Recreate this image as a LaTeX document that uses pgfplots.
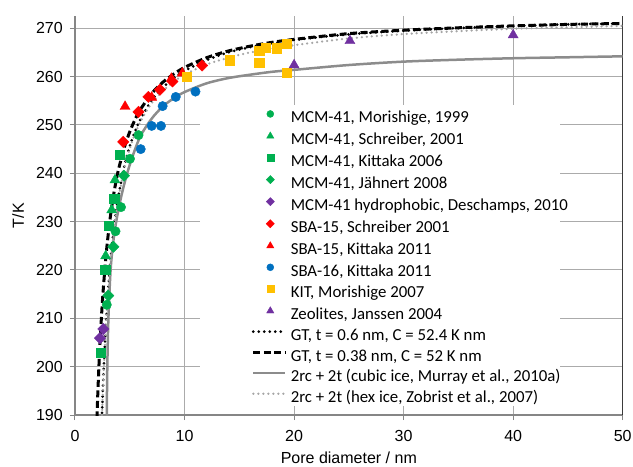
\documentclass[border=0pt]{standalone}
\usepackage{fontspec}
\setmainfont{Liberation Sans}
\newfontfamily\legendfont{Carlito}
\usepackage{pgfplots}
\pgfplotsset{compat=1.18}
\definecolor{mgreen}{HTML}{00B050}
\definecolor{mred}{HTML}{FF0000}
\definecolor{mblue}{HTML}{0070C0}
\definecolor{myellow}{HTML}{FFC000}
\definecolor{mpurple}{HTML}{7030A0}
\definecolor{gridgray}{HTML}{ABABAB}
\definecolor{axgray}{HTML}{868686}
\definecolor{cubgray}{HTML}{8C8C8C}
\definecolor{hexgray}{HTML}{A6A6A6}
\pgfplotsset{
  linelegend/.style={legend image code/.code={\draw[##1] (0bp,5bp) -- (32bp,5bp);}},
  scatlegend/.style={legend image code/.code={\draw[##1] plot coordinates {(17bp,5bp)};}},
}
\begin{document}
\begin{tikzpicture}
\begin{axis}[
  scale only axis,
  width=547.7bp, height=398.8bp,
  xmin=0, xmax=50, ymin=190, ymax=272.5,
  xtick={0,10,...,50}, ytick={190,200,...,270},
  axis lines*=left,
  axis line style={axgray, line width=1.5bp},
  tick align=outside,
  major tick length=5bp,
  tick style={axgray, line width=1bp},
  grid=major,
  major grid style={gridgray, line width=1bp},
  /pgf/number format/assume math mode=true,
  tick label style={font=\fontsize{16bp}{19bp}\selectfont, inner sep=0pt},
  xticklabel shift=10bp,
  yticklabel shift=7bp,
  xlabel={Pore diameter / nm},
  ylabel={T/K},
  every axis x label/.style={at={(axis description cs:0.5,-0.108)}, anchor=center, font=\fontsize{16bp}{19bp}\selectfont},
  every axis y label/.style={at={(axis description cs:-0.104,0.5)}, rotate=90, anchor=center, font=\fontsize{16bp}{19bp}\selectfont},
  clip=true,
  linelegend,
  legend cell align=left,
  legend style={at={(axis cs:16.14,253.0)}, anchor=north west, draw=none, fill=none,
    inner sep=0pt, outer sep=0pt, row sep=5.2bp,
    font=\legendfont\fontsize{16.8bp}{19bp}\selectfont,
    nodes={inner sep=0pt, text height=11.5bp, text depth=4bp},
    /tikz/every odd column/.append style={column sep=4bp}},
]
\coordinate (O) at (rel axis cs:0,0);
% white legend background
\addplot[draw=none, fill=white, mark=none, forget plot] coordinates {(11.4,191.9) (44.3,191.9) (44.3,254.1) (11.4,254.1)};
\draw[black, line width=1bp] (rel axis cs:1,0) -- (rel axis cs:1,1);

\addplot[scatlegend, only marks, mark=*, color=mgreen, mark size=4.7bp, legend image post style={mark size=3.5bp}]
 coordinates {(5.8,247.9) (5.02,243.0) (4.2,233.0) (3.7,228.0) (2.9,212.8)};
\addlegendentry{MCM-41, Morishige, 1999}
\addplot[scatlegend, only marks, mark=triangle*, color=mgreen, mark size=5.8bp, legend image post style={mark size=4.2bp}]
 coordinates {(3.65,238.6) (3.35,232.4) (2.8,222.9)};
\addlegendentry{MCM-41, Schreiber, 2001}
\addplot[scatlegend, only marks, mark=square*, color=mgreen, mark size=4.7bp, legend image post style={mark size=3.5bp}]
 coordinates {(4.1,243.9) (3.59,234.7) (3.1,229.2) (2.74,220.1) (2.35,202.9)};
\addlegendentry{MCM-41, Kittaka 2006}
\addplot[scatlegend, only marks, mark=square*, mark options={rotate=45}, color=mgreen, mark size=4.0bp, legend image post style={mark size=2.9bp}]
 coordinates {(4.47,239.5) (3.5,224.8) (3.04,214.7)};
\addlegendentry{MCM-41, Jähnert 2008}
\addplot[scatlegend, only marks, mark=square*, mark options={rotate=45}, color=mpurple, mark size=4.0bp, legend image post style={mark size=2.9bp}]
 coordinates {(2.59,207.8) (2.28,205.9)};
\addlegendentry{MCM-41 hydrophobic, Deschamps, 2010}
\addplot[scatlegend, only marks, mark=square*, mark options={rotate=45}, color=mred, mark size=4.0bp, legend image post style={mark size=2.9bp}]
 coordinates {(4.4,246.5) (5.8,252.7) (6.7,255.8) (7.76,257.3) (8.9,259.0) (11.6,262.3)};
\addlegendentry{SBA-15, Schreiber 2001}
\addplot[scatlegend, only marks, mark=triangle*, color=mred, mark size=5.8bp, legend image post style={mark size=4.2bp}]
 coordinates {(4.57,253.8) (7.0,255.7) (8.8,259.6) (9.8,260.7)};
\addlegendentry{SBA-15, Kittaka 2011}
\addplot[scatlegend, only marks, mark=*, color=mblue, mark size=4.7bp, legend image post style={mark size=3.5bp}]
 coordinates {(6.0,245.0) (7.0,249.8) (7.85,249.8) (8.0,253.9) (9.2,255.8) (11.0,256.9)};
\addlegendentry{SBA-16, Kittaka 2011}
\addplot[scatlegend, only marks, mark=square*, color=myellow, mark size=4.7bp, legend image post style={mark size=3.5bp}]
 coordinates {(10.2,260.0) (14.1,263.4) (16.8,265.4) (16.8,262.9) (17.4,266.0) (18.4,265.9) (19.3,266.8) (19.3,260.8)};
\addlegendentry{KIT, Morishige 2007}
\addplot[scatlegend, only marks, mark=triangle*, color=mpurple, mark size=5.8bp, legend image post style={mark size=4.2bp}]
 coordinates {(20.0,262.4) (25.1,267.4) (40.0,268.6)};
\addlegendentry{Zeolites, Janssen 2004}

\addplot[black, line width=3bp, line cap=round, dash pattern=on 0bp off 5.5bp, smooth, mark=none]
 coordinates {(2.45,189.3) (2.5,192.5) (2.6,198.3) (2.7,203.3) (2.8,207.65) (2.9,211.5) (3.0,214.9) (3.25,222.0) (3.5,227.6) (3.75,232.05) (4,235.7) (4.5,241.4) (5,245.6) (5.5,248.8) (6,251.3) (7,255.1) (8,257.7) (9,259.7) (10,261.2) (12,263.4) (14,265.0) (16,266.1) (18,266.9) (20,267.6) (25,268.75) (30,269.5) (35,270.05) (40,270.45) (45,270.8) (50,271.0)};
\addlegendentry{GT, t = 0.6 nm, C = 52.4 K nm}
\addplot[black, line width=3bp, dash pattern=on 7bp off 3.5bp, smooth, mark=none]
 coordinates {(2.0,189.3) (2.1,195.5) (2.2,200.9) (2.3,205.6) (2.4,209.7) (2.5,213.4) (2.6,216.6) (2.8,222.2) (3.0,226.7) (3.25,231.4) (3.5,235.2) (3.75,238.4) (4,241.05) (4.5,245.3) (5,248.6) (5.5,251.2) (6,253.3) (7,256.5) (8,258.8) (9,260.5) (10,261.9) (12,263.9) (14,265.3) (16,266.3) (18,267.1) (20,267.7) (25,268.9) (30,269.6) (35,270.1) (40,270.5) (45,270.8) (50,271.0)};
\addlegendentry{GT, t = 0.38 nm, C = 52 K nm}
\addplot[cubgray, line width=2.5bp, smooth, mark=none]
 coordinates {(2.88,185) (2.9,190) (2.95,200) (3.05,210) (3.25,220) (3.5,226) (3.8,230.5) (4.2,235) (4.7,239.5) (5.3,243.8) (6,247.8) (7,251.3) (8,253.8) (9,255.5) (10,256.8) (12,258.6) (14,259.7) (16,260.4) (18,261.0) (20,261.4) (25,262.4) (30,263.1) (35,263.5) (40,263.8) (45,264.0) (50,264.2)};
\addlegendentry{2rc + 2t (cubic ice, Murray et al., 2010a)}
\addplot[hexgray, line width=2.5bp, line cap=round, dash pattern=on 0bp off 5bp, smooth, mark=none]
 coordinates {(2.45,189) (2.5,192.0) (2.6,197.8) (2.7,202.8) (2.8,207.1) (2.9,211.0) (3.0,214.4) (3.25,221.5) (3.5,227.1) (3.75,231.6) (4,235.2) (4.5,240.9) (5,245.1) (5.5,248.3) (6,250.8) (7,254.5) (8,257.0) (9,258.9) (10,260.4) (12,262.5) (14,263.9) (16,265.0) (18,265.8) (20,266.5) (25,267.9) (30,268.8) (35,269.4) (40,269.9) (45,270.2) (50,270.5)};
\addlegendentry{2rc + 2t (hex ice, Zobrist et al., 2007)}
\end{axis}
\pgfresetboundingbox
\path[use as bounding box] (O) ++(-75bp,-52bp) rectangle ++(633bp,467bp);
\end{tikzpicture}
\end{document}
